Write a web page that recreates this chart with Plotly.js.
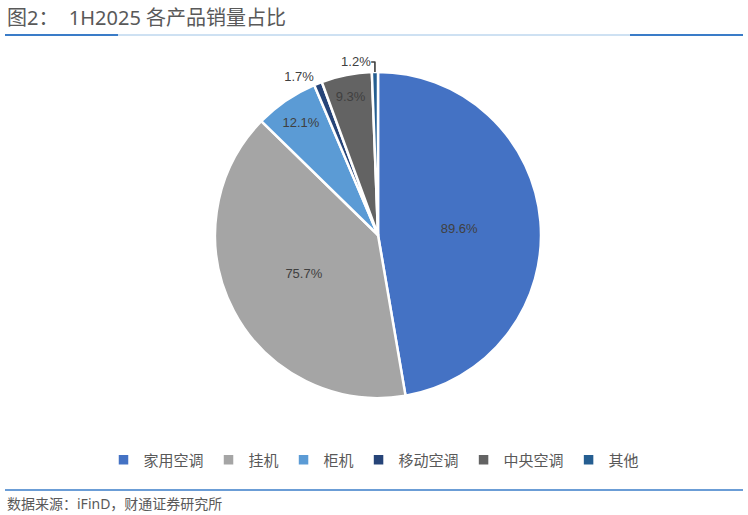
<!DOCTYPE html>
<html>
<head>
<meta charset="utf-8">
<script src="https://cdn.plot.ly/plotly-3.0.1.min.js"></script>
<style>
  html, body { margin: 0; padding: 0; background: #fff; }
  #chart { width: 748px; height: 515px; }
</style>
</head>
<body>
<div id="chart"></div>
<script>
// 各产品销量占比（扇区大小按图估读，标签为原图数据标签）
const categories = ['家用空调', '挂机', '柜机', '移动空调', '中央空调', '其他'];
const shares = [47.3, 40.0, 6.3, 0.8, 5.0, 0.6];
const labelText = ['89.6%', '75.7%', '12.1%', '1.7%', '9.3%', '1.2%'];
const colors = ['#4472C4', '#A5A5A5', '#5B9BD5', '#264478', '#636363', '#255E91'];
const textPos = ['inside', 'inside', 'inside', 'outside', 'inside', 'outside'];

const W = 748, H = 515;
const px = (x) => x / W;
const py = (y) => 1 - y / H;

const cjk = '"Noto Sans", "Noto Sans CJK SC", sans-serif';
const num = '"Liberation Sans", Arial, sans-serif';

const trace = {
  type: 'pie',
  labels: categories,
  values: shares,
  text: labelText,
  textinfo: 'text',
  textposition: textPos,
  insidetextorientation: 'horizontal',
  sort: false,
  direction: 'clockwise',
  rotation: 0,
  marker: { colors: colors, line: { color: '#ffffff', width: 2.5 } },
  textfont: { family: num, size: 13, color: '#404040' },
  outsidetextfont: { family: num, size: 13, color: '#404040' },
  domain: { x: [px(215), px(541)], y: [py(398), py(72)] },
  hoverinfo: 'label+percent'
};

const layout = {
  width: W,
  height: H,
  margin: { l: 0, r: 0, t: 0, b: 0 },
  paper_bgcolor: '#ffffff',
  showlegend: true,
  legend: {
    orientation: 'h',
    x: 0.5, xanchor: 'center',
    y: py(460), yanchor: 'middle',
    font: { family: cjk, size: 15, color: '#595959' },
    itemwidth: 30,
    traceorder: 'normal'
  },
  shapes: [
    { type: 'line', xref: 'paper', yref: 'paper', x0: px(5), x1: px(743), y0: py(35), y1: py(35),
      line: { color: '#9DC3E6', width: 1 } },
    { type: 'line', xref: 'paper', yref: 'paper', x0: px(5), x1: px(118), y0: py(35), y1: py(35),
      line: { color: '#3A7CC8', width: 2 } },
    { type: 'line', xref: 'paper', yref: 'paper', x0: px(630), x1: px(743), y0: py(35), y1: py(35),
      line: { color: '#3A7CC8', width: 2 } },
    { type: 'line', xref: 'paper', yref: 'paper', x0: px(5), x1: px(743), y0: py(490), y1: py(490),
      line: { color: '#3A7CC8', width: 1.5 } }
  ],
  annotations: [
    { text: '图2：  1H2025 各产品销量占比', xref: 'paper', yref: 'paper',
      x: px(5), y: py(17), xanchor: 'left', yanchor: 'middle', showarrow: false,
      font: { family: cjk, size: 20, color: '#595959' } },
    { text: '数据来源：iFinD，财通证券研究所', xref: 'paper', yref: 'paper',
      x: px(5), y: py(503), xanchor: 'left', yanchor: 'middle', showarrow: false,
      font: { family: cjk, size: 14, color: '#595959' } }
  ]
};

Plotly.newPlot('chart', [trace], layout, { displayModeBar: false, staticPlot: true });
</script>
</body>
</html>
